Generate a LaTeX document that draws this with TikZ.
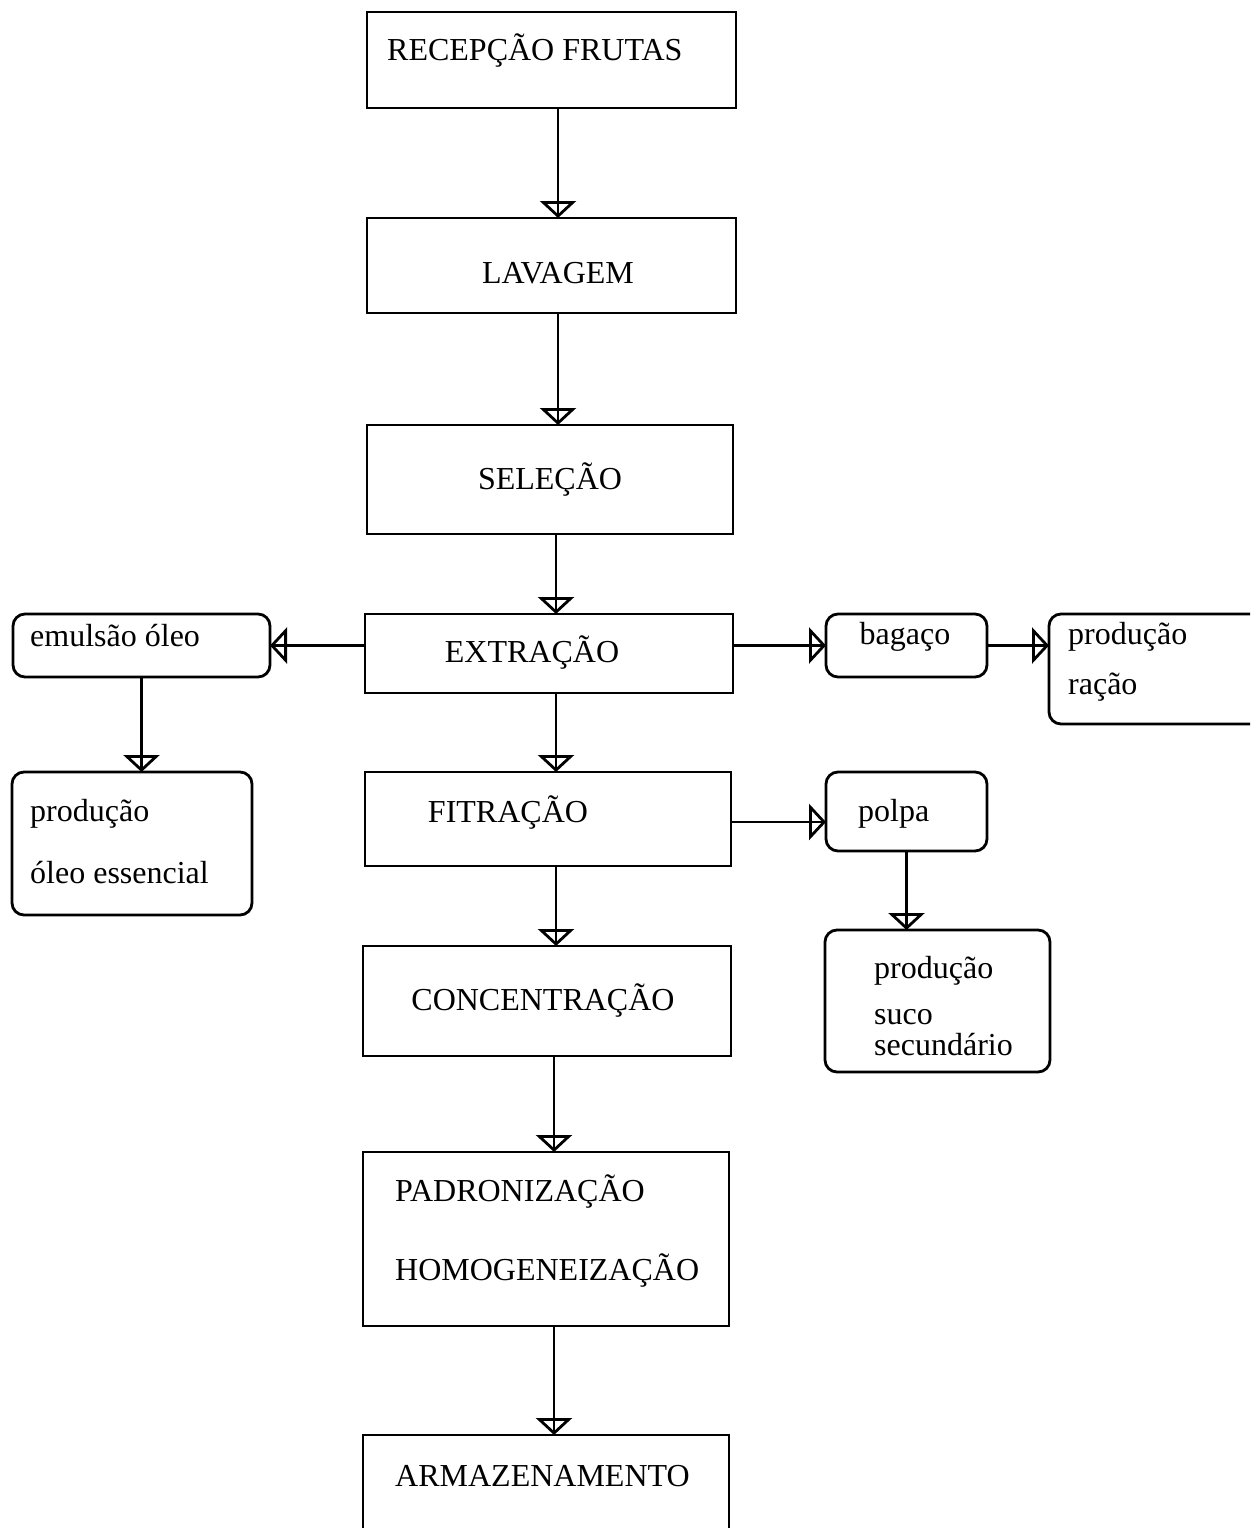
\documentclass[tikz,border=0pt]{standalone}
\usepackage{fontspec}
\setmainfont{Liberation Serif}
\usetikzlibrary{arrows.meta}
\begin{document}
\begin{tikzpicture}[x=1pt,y=-1pt,
  box/.style={draw, line width=2.8pt, inner sep=0pt, outer sep=0pt, anchor=north west},
  rbox/.style={box, rounded corners=12pt},
  lbl/.style={inner sep=0pt, font=\fontsize{32}{38}\selectfont},
  flow/.style={line width=2.8pt,
    -{Triangle[open, length=17pt, width=36pt, line width=2.8pt]},
    postaction={draw, line width=2.8pt, arrows=-}}
]
\useasboundingbox (0,0) rectangle (1250,1528);
\clip (0,0) rectangle (1250,1528);

% main process boxes
\node[box, minimum width=369pt, minimum height=96pt]  (rec) at (367,12)   {};
\node[box, minimum width=369pt, minimum height=95pt]  (lav) at (367,218)  {};
\node[box, minimum width=366pt, minimum height=109pt] (sel) at (367,425)  {};
\node[box, minimum width=368pt, minimum height=79pt]  (ext) at (365,614)  {};
\node[box, minimum width=366pt, minimum height=94pt]  (fil) at (365,772)  {};
\node[box, minimum width=368pt, minimum height=110pt] (con) at (363,946)  {};
\node[box, minimum width=366pt, minimum height=174pt] (pad) at (363,1152) {};
\node[box, minimum width=366pt, minimum height=120pt] (arm) at (363,1435) {};

% by-product boxes
\node[rbox, minimum width=257pt, minimum height=63pt]  (emu) at (13,614)   {};
\node[rbox, minimum width=240pt, minimum height=143pt] (peo) at (12,772)   {};
\node[rbox, minimum width=161pt, minimum height=63pt]  (bag) at (826,614)  {};
\node[rbox, minimum width=230pt, minimum height=110pt] (rac) at (1049,614) {};
\node[rbox, minimum width=161pt, minimum height=79pt]  (pol) at (826,772)  {};
\node[rbox, minimum width=225pt, minimum height=142pt] (suc) at (825,930)  {};

% labels
\node[lbl, anchor=base west] (trec) at (387,61)   {RECEPÇÃO FRUTAS};
\node[lbl, anchor=base]      (tlav) at (558,283)  {LAVAGEM};
\node[lbl, anchor=base]      (tsel) at (550,489)  {SELEÇÃO};
\node[lbl, anchor=base]      (text) at (532,662)  {EXTRAÇÃO};
\node[lbl, anchor=base]      (tfil) at (508,822)  {FITRAÇÃO};
\node[lbl, anchor=base]      (tcon) at (543,1010) {CONCENTRAÇÃO};
\node[lbl, anchor=base west] (tpad) at (395,1201) {PADRONIZAÇÃO};
\node[lbl, anchor=base west] (thom) at (395,1280) {HOMOGENEIZAÇÃO};
\node[lbl, anchor=base west] (tarm) at (395,1486) {ARMAZENAMENTO};

\node[lbl, anchor=base west] (temu)  at (30,646)   {emulsão óleo};
\node[lbl, anchor=base west] (tpeo1) at (30,821)   {produção};
\node[lbl, anchor=base west] (tpeo2) at (30,883)   {óleo essencial};
\node[lbl, anchor=base]      (tbag)  at (905,644)  {bagaço};
\node[lbl, anchor=base west] (trac1) at (1068,644) {produção};
\node[lbl, anchor=base west] (trac2) at (1068,694) {ração};
\node[lbl, anchor=base west] (tpol)  at (858,821)  {polpa};
\node[lbl, anchor=base west] (tsuc1) at (874,978)  {produção};
\node[lbl, anchor=base west] (tsuc2) at (874,1024) {suco};
\node[lbl, anchor=base west] (tsuc3) at (874,1055) {secundário};

% main flow
\draw[flow] ([xshift=6.5pt]rec.south) -- ([xshift=6.5pt]rec.south |- lav.north);
\draw[flow] ([xshift=6.5pt]lav.south) -- ([xshift=6.5pt]lav.south |- sel.north);
\draw[flow] ([xshift=6pt]sel.south)   -- ([xshift=6pt]sel.south |- ext.north);
\draw[flow] ([xshift=7pt]ext.south)   -- ([xshift=7pt]ext.south |- fil.north);
\draw[flow] ([xshift=8pt]fil.south)   -- ([xshift=8pt]fil.south |- con.north);
\draw[flow] ([xshift=7pt]con.south)   -- ([xshift=7pt]con.south |- pad.north);
\draw[flow] ([xshift=8pt]pad.south)   -- ([xshift=8pt]pad.south |- arm.north);

% side flows
\draw[flow] (ext.west |- emu.east) -- (emu.east);
\draw[flow] (ext.east |- bag.west) -- (bag.west);
\draw[flow] (bag.east) -- (bag.east -| rac.west);
\draw[flow] ([yshift=-3pt]fil.east) -- ([yshift=-3pt]fil.east -| pol.west);
\draw[flow] (emu.south) -- (emu.south |- peo.north);
\draw[flow] (pol.south) -- (pol.south |- suc.north);
\end{tikzpicture}
\end{document}
